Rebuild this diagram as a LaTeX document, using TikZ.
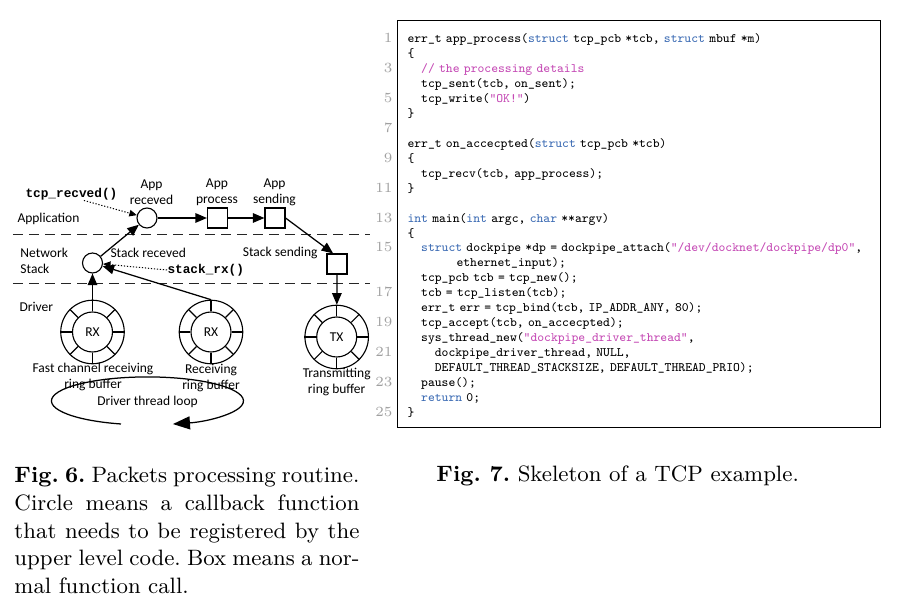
\documentclass[tikz,border=0pt]{standalone}
\usepackage{fontspec}
\newfontfamily\diafont{Carlito}
\newfontfamily\diamono{Liberation Mono}
\usepackage{tikz}
\usetikzlibrary{positioning,arrows.meta,shapes}
\definecolor{keyword}{HTML}{3D6CB4}
\definecolor{strlit}{HTML}{C54BB5}
\definecolor{lineno}{HTML}{A0A0A0}
\newcommand{\kw}[1]{\textcolor{keyword}{#1}}
\newcommand{\cstr}[1]{\textcolor{strlit}{#1}}
\newcommand{\codeind}{\phantom{xx}}
\newcommand{\capline}[1]{\makebox[138pt][s]{\spaceskip=0.333em plus 0.6em minus 0.12em #1}}

\begin{document}
\begin{tikzpicture}[
    x=0.4pt, y=-0.4pt,
    lbl/.style = {font=\diafont\fontsize{5.4}{6.4}\selectfont, align=center, inner sep=0pt},
    fn/.style = {font=\diamono\bfseries\fontsize{5.1}{6}\selectfont, inner sep=0pt},
    cb/.style = {circle, draw, minimum size=8pt, inner sep=0pt, line width=0.45pt},
    call/.style = {rectangle, draw, minimum size=8pt, inner sep=0pt, line width=0.45pt},
    ringout/.style = {circle, draw, minimum size=25.4pt, inner sep=0pt, line width=0.45pt},
    ringin/.style = {circle, draw, minimum size=16pt, inner sep=0pt, line width=0.45pt, font=\diafont\fontsize{5.4}{6.4}\selectfont},
    spoke/.style = {line width=0.45pt},
    arr/.style = {-{Triangle[length=4.6pt,width=3.8pt]}, line width=0.5pt},
    dotarr/.style = {dash pattern=on 0.5pt off 0.7pt, -{Triangle[length=3pt,width=2.6pt]}, line width=0.4pt},
    layer/.style = {dash pattern=on 4pt off 2.4pt, line width=0.4pt, draw=black!85},
    code/.style = {font=\ttfamily\fontsize{5.15}{5.97}\selectfont, align=left, inner sep=0pt, text width=200pt},
    linenum/.style = {font=\fontsize{5.6}{5.97}\selectfont, text=lineno, align=right, inner sep=0pt, text width=15pt},
    caption/.style = {font=\fontsize{8.9}{11.04}\selectfont\frenchspacing, inner sep=0pt},
]
    \useasboundingbox (0,0) rectangle (903,612);

    % layers
    \coordinate (applayer w) at (13,235);
    \coordinate (applayer e) at (370,235);
    \coordinate (stacklayer w) at (13,284);
    \coordinate (stacklayer e) at (370,284);
    \draw[layer] (applayer w) -- (applayer e);
    \draw[layer] (stacklayer w) -- (stacklayer e);
    \node[lbl, anchor=west] (applicationlbl) at (17,219) {Application};
    \node[lbl, anchor=west, align=left] (networklbl) at (20,261) {Network\\Stack};
    \node[lbl, anchor=west] (driverlbl) at (19,307) {Driver};

    % callbacks and calls
    \node[cb] (apprecv) at (147,218) {};
    \node[call] (appproc) at (217.5,218) {};
    \node[call] (appsend) at (275,218) {};
    \node[cb] (stackrecv) at (92.5,263) {};
    \node[call] (stacksend) at (337,264) {};
    \node[lbl] (apprecvlbl) at (151.5,192) {App\\receved};
    \node[lbl] (appproclbl) at (217,192) {App\\process};
    \node[lbl] (appsendlbl) at (274.5,192) {App\\sending};
    \node[lbl, anchor=west] (stackrecvlbl) at (110,253) {Stack receved};
    \node[lbl, anchor=east] (stacksendlbl) at (318,253) {Stack sending};
    \node[fn, anchor=west] (tcprecvedlbl) at (25,194) {tcp\_recved()};
    \node[fn, anchor=west] (stackrxlbl) at (167,270) {stack\_rx()};

    % ring buffers
    \node[ringout] (fastbuf) at (92.5,332) {};
    \node[ringin] (fastrx) at (fastbuf) {RX};
    \node[ringout] (rxbuf) at (211,332) {};
    \node[ringin] (rx) at (rxbuf) {RX};
    \node[ringout] (txbuf) at (336.7,337) {};
    \node[ringin] (tx) at (txbuf) {TX};
    \foreach \ring/\hub in {fastbuf/fastrx, rxbuf/rx, txbuf/tx}
        \foreach \a in {0,45,...,315}
            \draw[spoke] (\hub.\a) -- (\ring.\a);
    \node[lbl] (fastbuflbl) at (93,377) {Fast channel receiving\\ring buffer};
    \node[lbl] (rxbuflbl) at (211,378) {Receiving\\ring buffer};
    \node[lbl] (txbuflbl) at (336.7,382) {Transmitting\\ring buffer};

    % driver loop
    \node[lbl] (looplbl) at (147.5,402) {Driver thread loop};
    \coordinate (loopstart) at (121,424);
    \draw[-{Triangle[length=6.8pt,width=5.2pt]}, line width=0.5pt]
        (loopstart) arc[start angle=106, end angle=434.6, x radius=96, y radius=24];

    % packet flow
    \draw[arr] (fastbuf) -- (stackrecv);
    \draw[arr] (rxbuf.north) -- (stackrecv);
    \draw[arr] (stackrecv) -- (apprecv);
    \draw[arr] (apprecv) -- (appproc);
    \draw[arr] (appproc) -- (appsend);
    \draw[arr] (appsend.east) -- (stacksend.110);
    \draw[arr] (stacksend) -- (txbuf);
    \draw[dotarr] ([xshift=5pt]tcprecvedlbl.south) -- (apprecv);
    \draw[dotarr] (stackrxlbl.west) -- (stackrecv);

    % listing
    \draw[line width=0.4pt] (398,21) rectangle (881,428);
    \node[linenum, anchor=base east] (linenos) at (393,43)
        {1\\\mbox{}\\3\\\mbox{}\\5\\\mbox{}\\7\\\mbox{}\\9\\\mbox{}\\11\\\mbox{}\\13\\\mbox{}\\15\\\mbox{}\\\mbox{}\\17\\\mbox{}\\19\\\mbox{}\\21\\\mbox{}\\23\\\mbox{}\\25};
    \node[code, anchor=base west] (listing) at (407,43) {%
        err\_t app\_process(\kw{struct} tcp\_pcb *tcb, \kw{struct} mbuf *m)\\
        \{\\
        \codeind\cstr{// the processing details}\\
        \codeind tcp\_sent(tcb, on\_sent);\\
        \codeind tcp\_write(\cstr{"OK!"})\\
        \}\\
        \mbox{}\\
        err\_t on\_accecpted(\kw{struct} tcp\_pcb *tcb)\\
        \{\\
        \codeind tcp\_recv(tcb, app\_process);\\
        \}\\
        \mbox{}\\
        \kw{int} main(\kw{int} argc, \kw{char} **argv)\\
        \{\\
        \codeind\kw{struct} dockpipe *dp = dockpipe\_attach(\cstr{"/dev/docknet/dockpipe/dp0"},\\
        \hspace*{19.6pt}ethernet\_input);\\
        \codeind tcp\_pcb tcb = tcp\_new();\\
        \codeind tcb = tcp\_listen(tcb);\\
        \codeind err\_t err = tcp\_bind(tcb, IP\_ADDR\_ANY, 80);\\
        \codeind tcp\_accept(tcb, on\_accecpted);\\
        \codeind sys\_thread\_new(\cstr{"dockpipe\_driver\_thread"},\\
        \codeind\codeind dockpipe\_driver\_thread, NULL,\\
        \codeind\codeind DEFAULT\_THREAD\_STACKSIZE, DEFAULT\_THREAD\_PRIO);\\
        \codeind pause();\\
        \codeind\kw{return} 0;\\
        \}};

    % captions
    \node[caption, anchor=base west, text width=140pt, align=left] (fig6cap) at (14,483)
        {\capline{\textbf{Fig.~6.} Packets processing routine.}\\
         \capline{Circle means a callback function}\\
         \capline{that needs to be registered by the}\\
         \capline{upper level code. Box means a nor-}\\
         mal function call.};
    \node[caption, anchor=base west] (fig7cap) at (436,482)
        {\textbf{Fig.~7.} Skeleton of a TCP example.};
\end{tikzpicture}
\end{document}
